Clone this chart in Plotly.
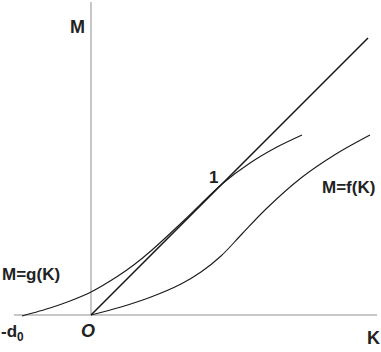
import plotly.graph_objects as go

# Data (in chart units: origin O at (0,0))
g_K = [-69, -41, -21, 0, 27, 44, 61, 94, 131, 159, 186, 211]
g_M = [-1, 7, 14, 23, 39, 51, 65, 95.5, 131, 152, 168, 180]

f_K = [0, 30, 60, 90, 110, 130, 150, 175, 210, 245, 279]
f_M = [0, 8, 18, 31, 43, 59, 80, 106, 137, 161, 180]

diag_K = [0, 277]
diag_M = [0, 277]

axis_K = [-77, 286]
axis_M_top = 313

fig = go.Figure()

grey = "#b4b4b4"
ink = "#1a1a1a"

# axes
fig.add_trace(go.Scatter(x=axis_K, y=[0, 0], mode="lines",
                         line=dict(color=grey, width=1.5), hoverinfo="skip"))
fig.add_trace(go.Scatter(x=[0, 0], y=[0, axis_M_top], mode="lines",
                         line=dict(color=grey, width=1.5), hoverinfo="skip"))

fig.add_trace(go.Scatter(x=g_K, y=g_M, mode="lines", line_shape="spline",
                         line=dict(color=ink, width=1.1, smoothing=0.8), hoverinfo="skip"))
fig.add_trace(go.Scatter(x=f_K, y=f_M, mode="lines", line_shape="spline",
                         line=dict(color=ink, width=1.1, smoothing=1.0), hoverinfo="skip"))
fig.add_trace(go.Scatter(x=diag_K, y=diag_M, mode="lines",
                         line=dict(color=ink, width=1.6), hoverinfo="skip"))

font = "Liberation Sans, Arial, sans-serif"
def label(text, x, y, size, italic=False):
    t = f"<b><i>{text}</i></b>" if italic else f"<b>{text}</b>"
    fig.add_annotation(x=x, y=y, xref="x", yref="y", text=t, showarrow=False,
                       font=dict(family=font, size=size, color="#222222"),
                       xanchor="center", yanchor="middle")

label("M", -14, 288, 18)
label("K", 282, -23, 18)
label("M=g(K)", -60, 41, 17)
label("M=f(K)", 257, 128, 17)
label("1", 122, 138, 17)
label("O", -3, -16, 18, italic=True)
label("-d<sub>0</sub>", -79, -18, 17)

fig.update_layout(
    width=381, height=352,
    margin=dict(l=0, r=0, t=0, b=0),
    paper_bgcolor="white", plot_bgcolor="white",
    showlegend=False,
    xaxis=dict(range=[-91, 290], visible=False, fixedrange=True),
    yaxis=dict(range=[-37, 315], visible=False, fixedrange=True),
)

fig.write_html("out.html")
